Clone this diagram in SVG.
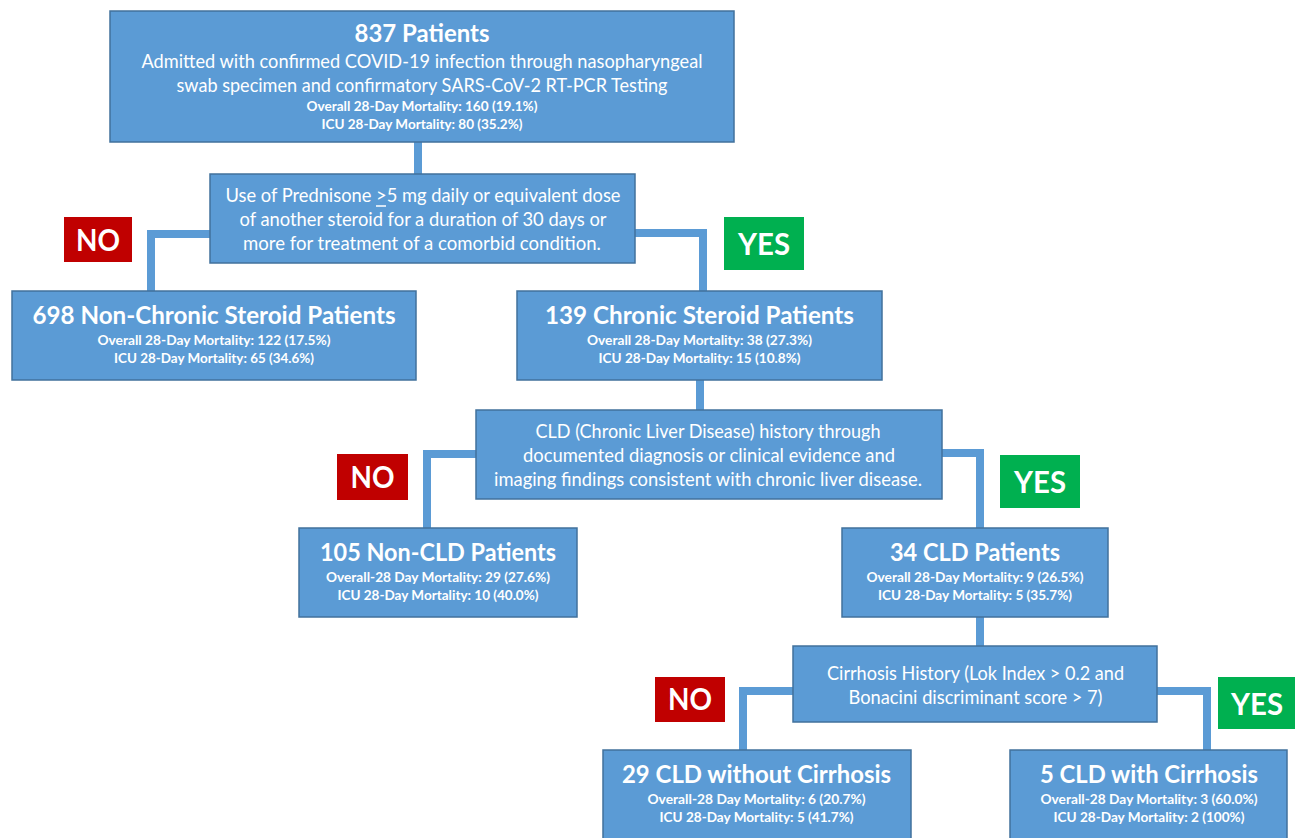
<svg xmlns="http://www.w3.org/2000/svg" width="1295" height="838" viewBox="0 0 1295 838">
<style>
.box{fill:#5B9BD5;stroke:#41719C;stroke-width:1.5}
.conn{fill:none;stroke:#5B9BD5;stroke-width:8;stroke-linejoin:miter;stroke-linecap:butt}
text{font-family:Lato,"Liberation Sans",sans-serif;fill:#fff;text-anchor:middle}
.t{font-size:24px;font-weight:bold}
.b{font-size:19px}
.s{font-size:13px;font-weight:bold}
.lab{font-size:30px;font-weight:bold}
.no{fill:#C00000}
.yes{fill:#00B050}
</style>
<rect width="1295" height="838" fill="#fff"/>
<g id="connectors">
<path class="conn" d="M418,142 V174"/>
<path class="conn" d="M210,234 H151 V291"/>
<path class="conn" d="M635,233 H703 V291"/>
<path class="conn" d="M700,380 V410"/>
<path class="conn" d="M476,454 H427 V528"/>
<path class="conn" d="M942,453 H980 V528"/>
<path class="conn" d="M980,617 V646"/>
<path class="conn" d="M793,691 H743 V750"/>
<path class="conn" d="M1157,691 H1207 V750"/>
</g>
<g id="n-top">
<rect class="box" x="110" y="11" width="624" height="131"/>
<text class="t" x="422" y="42" textLength="135" lengthAdjust="spacingAndGlyphs">837 Patients</text>
<text class="b" x="422" y="68" textLength="561" lengthAdjust="spacingAndGlyphs">Admitted with confirmed COVID-19 infection through nasopharyngeal</text>
<text class="b" x="422" y="92" textLength="491" lengthAdjust="spacingAndGlyphs">swab specimen and confirmatory SARS-CoV-2 RT-PCR Testing</text>
<text class="s" x="422" y="111" textLength="231" lengthAdjust="spacingAndGlyphs">Overall 28-Day Mortality: 160 (19.1%)</text>
<text class="s" x="422" y="129" textLength="201" lengthAdjust="spacingAndGlyphs">ICU 28-Day Mortality: 80 (35.2%)</text>
</g>
<g id="n-dec1">
<rect class="box" x="210" y="174" width="425" height="89"/>
<text class="b" x="423" y="202" textLength="395" lengthAdjust="spacingAndGlyphs">Use of Prednisone &gt;5 mg daily or equivalent dose</text>
<line x1="376" y1="206" x2="386" y2="206" stroke="#fff" stroke-width="1.5"/>
<text class="b" x="423" y="226" textLength="367" lengthAdjust="spacingAndGlyphs">of another steroid for a duration of 30 days or</text>
<text class="b" x="422" y="250" textLength="358" lengthAdjust="spacingAndGlyphs">more for treatment of a comorbid condition.</text>
</g>
<g id="lab-no1">
<rect class="no" x="64" y="217" width="68" height="45"/>
<text class="lab" x="98" y="251" textLength="44" lengthAdjust="spacingAndGlyphs">NO</text>
</g>
<g id="lab-yes1">
<rect class="yes" x="724" y="217" width="80" height="53"/>
<text class="lab" x="764" y="255" textLength="52" lengthAdjust="spacingAndGlyphs">YES</text>
</g>
<g id="n-698">
<rect class="box" x="12" y="291" width="404" height="89"/>
<text class="t" x="214" y="324" textLength="363" lengthAdjust="spacingAndGlyphs">698 Non-Chronic Steroid Patients</text>
<text class="s" x="214" y="345" textLength="233" lengthAdjust="spacingAndGlyphs">Overall 28-Day Mortality: 122 (17.5%)</text>
<text class="s" x="214" y="363" textLength="200" lengthAdjust="spacingAndGlyphs">ICU 28-Day Mortality: 65 (34.6%)</text>
</g>
<g id="n-139">
<rect class="box" x="517" y="291" width="365" height="89"/>
<text class="t" x="699.5" y="324" textLength="309" lengthAdjust="spacingAndGlyphs">139 Chronic Steroid Patients</text>
<text class="s" x="699.5" y="345" textLength="225" lengthAdjust="spacingAndGlyphs">Overall 28-Day Mortality: 38 (27.3%)</text>
<text class="s" x="699.5" y="363" textLength="202" lengthAdjust="spacingAndGlyphs">ICU 28-Day Mortality: 15 (10.8%)</text>
</g>
<g id="n-dec2">
<rect class="box" x="476" y="410" width="466" height="89"/>
<text class="b" x="708" y="438" textLength="345" lengthAdjust="spacingAndGlyphs">CLD (Chronic Liver Disease) history through</text>
<text class="b" x="709" y="462" textLength="372" lengthAdjust="spacingAndGlyphs">documented diagnosis or clinical evidence and</text>
<text class="b" x="708" y="486" textLength="428" lengthAdjust="spacingAndGlyphs">imaging findings consistent with chronic liver disease.</text>
</g>
<g id="lab-no2">
<rect class="no" x="337" y="454" width="71" height="46"/>
<text class="lab" x="372.5" y="488" textLength="44" lengthAdjust="spacingAndGlyphs">NO</text>
</g>
<g id="lab-yes2">
<rect class="yes" x="1000" y="455" width="80" height="53"/>
<text class="lab" x="1040" y="493" textLength="52" lengthAdjust="spacingAndGlyphs">YES</text>
</g>
<g id="n-105">
<rect class="box" x="299" y="528" width="278" height="89"/>
<text class="t" x="438" y="561" textLength="236" lengthAdjust="spacingAndGlyphs">105 Non-CLD Patients</text>
<text class="s" x="438" y="582" textLength="224" lengthAdjust="spacingAndGlyphs">Overall-28 Day Mortality: 29 (27.6%)</text>
<text class="s" x="438" y="600" textLength="201" lengthAdjust="spacingAndGlyphs">ICU 28-Day Mortality: 10 (40.0%)</text>
</g>
<g id="n-34">
<rect class="box" x="842" y="528" width="266" height="89"/>
<text class="t" x="975" y="561" textLength="170" lengthAdjust="spacingAndGlyphs">34 CLD Patients</text>
<text class="s" x="975" y="582" textLength="217" lengthAdjust="spacingAndGlyphs">Overall 28-Day Mortality: 9 (26.5%)</text>
<text class="s" x="975" y="600" textLength="194" lengthAdjust="spacingAndGlyphs">ICU 28-Day Mortality: 5 (35.7%)</text>
</g>
<g id="n-dec3">
<rect class="box" x="793" y="646" width="364" height="76"/>
<text class="b" x="975.5" y="680" textLength="297" lengthAdjust="spacingAndGlyphs">Cirrhosis History (Lok Index &gt; 0.2 and</text>
<text class="b" x="975.5" y="704" textLength="254" lengthAdjust="spacingAndGlyphs">Bonacini discriminant score &gt; 7)</text>
</g>
<g id="lab-no3">
<rect class="no" x="655" y="677" width="70" height="45"/>
<text class="lab" x="690" y="710" textLength="44" lengthAdjust="spacingAndGlyphs">NO</text>
</g>
<g id="lab-yes3">
<rect class="yes" x="1218" y="677" width="80" height="52"/>
<text class="lab" x="1257" y="715" textLength="52" lengthAdjust="spacingAndGlyphs">YES</text>
</g>
<g id="n-29">
<rect class="box" x="603" y="750" width="308" height="100"/>
<text class="t" x="756.5" y="783" textLength="269" lengthAdjust="spacingAndGlyphs">29 CLD without Cirrhosis</text>
<text class="s" x="756.5" y="804" textLength="218" lengthAdjust="spacingAndGlyphs">Overall-28 Day Mortality: 6 (20.7%)</text>
<text class="s" x="756.5" y="822" textLength="194" lengthAdjust="spacingAndGlyphs">ICU 28-Day Mortality: 5 (41.7%)</text>
</g>
<g id="n-5">
<rect class="box" x="1010" y="750" width="277" height="100"/>
<text class="t" x="1149" y="783" textLength="218" lengthAdjust="spacingAndGlyphs">5 CLD with Cirrhosis</text>
<text class="s" x="1149" y="804" textLength="217" lengthAdjust="spacingAndGlyphs">Overall-28 Day Mortality: 3 (60.0%)</text>
<text class="s" x="1149" y="822" textLength="191" lengthAdjust="spacingAndGlyphs">ICU 28-Day Mortality: 2 (100%)</text>
</g>
</svg>
